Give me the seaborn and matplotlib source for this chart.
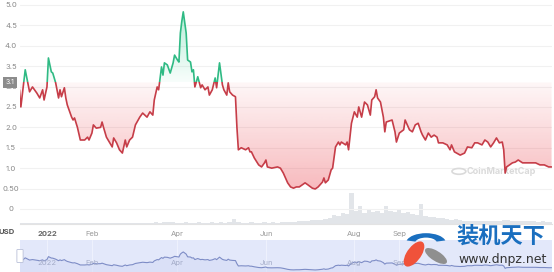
import numpy as np
import pandas as pd
import matplotlib
matplotlib.use("Agg")
import matplotlib.pyplot as plt
import matplotlib.dates as mdates
from matplotlib.patches import Rectangle, FancyBboxPatch, Ellipse, Wedge, Circle
from matplotlib.path import Path
import matplotlib.transforms as mtransforms
import seaborn as sns

# ---------------- data ----------------
day_offsets = [-19, -18, -15, -12, -10, -7, -5, -3, -2, 0, 1, 3, 4, 6, 8, 9, 10, 12, 13, 14,
               17, 18, 19, 21, 23, 26, 28, 29, 31, 32, 34, 37, 38, 39, 41, 43, 45, 46, 48, 50,
               52, 54, 55, 57, 59, 61, 64, 66, 69, 71, 73, 74, 76, 77, 79, 80, 81, 83, 85, 87,
               88, 90, 91, 92, 93, 94, 96, 97, 99, 100, 101, 102, 103, 104, 106, 107, 109, 111, 112, 114,
               116, 117, 119, 121, 122, 124, 125, 126, 128, 130, 131, 132, 134, 137, 139, 140, 141, 143, 146, 148,
               150, 151, 152, 155, 159, 161, 163, 166, 168, 170, 172, 174, 178, 180, 183, 185, 187, 190, 191, 192,
               194, 196, 197, 199, 201, 202, 203, 206, 207, 208, 210, 212, 214, 215, 217, 219, 221, 223, 224, 226,
               227, 228, 230, 232, 233, 234, 238, 240, 241, 243, 246, 247, 248, 250, 252, 254, 256, 258, 259, 261,
               263, 265, 267, 269, 270, 273, 276, 278, 279, 281, 285, 288, 290, 293, 295, 297, 300, 302, 304, 306,
               308, 310, 312, 314, 315, 316, 317, 319, 321, 323, 325, 328, 330, 333, 337, 340, 343, 346, 348]
prices = [2.92, 2.50, 3.41, 2.87, 2.99, 2.84, 2.72, 2.92, 2.67, 2.99, 3.70, 3.36, 3.33, 3.09, 2.72, 2.92, 2.75, 2.97, 2.72, 2.55,
          2.25, 2.18, 2.23, 2.00, 1.69, 1.69, 1.76, 1.69, 1.86, 2.06, 1.98, 2.00, 2.13, 2.00, 1.76, 1.64, 1.52, 1.74, 1.62, 1.45,
          1.37, 1.69, 1.52, 1.69, 1.76, 2.06, 2.25, 2.35, 2.25, 2.38, 2.30, 2.67, 2.99, 2.92, 3.48, 3.28, 3.58, 3.53, 3.33, 3.58,
          3.77, 3.65, 3.60, 4.31, 4.60, 4.83, 4.31, 3.65, 3.60, 3.36, 3.41, 2.99, 3.11, 3.24, 2.97, 3.04, 2.92, 2.99, 2.79, 2.92,
          3.21, 2.97, 3.58, 3.04, 2.92, 2.79, 3.09, 2.87, 2.79, 2.75, 2.00, 1.45, 1.50, 1.45, 1.50, 1.40, 1.40, 1.25, 1.08, 1.03,
          1.13, 1.20, 1.03, 1.00, 1.03, 1.00, 0.88, 0.64, 0.54, 0.51, 0.54, 0.54, 0.64, 0.59, 0.51, 0.49, 0.54, 0.66, 0.76, 0.64,
          0.71, 0.96, 1.00, 1.52, 1.64, 1.57, 1.64, 1.57, 1.64, 1.45, 2.10, 2.38, 2.25, 2.50, 2.25, 2.62, 2.55, 2.30, 2.67, 2.75,
          2.92, 2.72, 2.62, 2.25, 1.89, 2.13, 2.18, 1.89, 1.64, 1.86, 1.94, 2.18, 2.10, 1.94, 1.89, 2.06, 2.10, 1.89, 1.81, 1.69,
          1.86, 1.76, 1.81, 1.76, 1.62, 1.62, 1.57, 1.45, 1.57, 1.40, 1.32, 1.37, 1.52, 1.50, 1.62, 1.62, 1.57, 1.69, 1.64, 1.52,
          1.62, 1.74, 1.62, 1.64, 1.45, 0.88, 1.03, 1.08, 1.13, 1.15, 1.20, 1.13, 1.13, 1.13, 1.13, 1.08, 1.08, 1.03, 1.03]

volume_start, volume_step = -18, 3
volumes = [1, 1, 2, 1, 1, 2, 1, 1, 1, 2, 1, 1, 1, 1, 2, 1, 1, 2, 1, 1,
           2, 1, 1, 1, 2, 1, 1, 2, 1, 2, 2, 3, 2, 3, 4, 3, 2, 2, 3, 2,
           2, 3, 2, 2, 3, 2, 3,
           2, 3, 10, 3, 2, 2, 3, 2, 2, 3,
           2, 3, 2, 3, 4, 3, 4, 5, 5, 6,
           7, 8, 7, 9, 11, 17, 15, 21, 19, 60,
           25, 35, 21, 29, 23, 25, 21, 35, 25, 23,
           27, 21, 23, 19, 17, 39, 15, 13, 14, 11,
           11, 9, 8, 9, 7, 6, 6, 5, 6, 5,
           5, 6, 5, 6, 8, 7, 6, 5, 5, 6,
           5, 5, 4, 5, 4, 4]

baseline = 3.1
ytick_values = [0, 0.5, 1.0, 1.5, 2.0, 2.5, 3.0, 3.5, 4.0, 4.5, 5.0]
ytick_labels = ["0", "0.50", "1.0", "1.5", "2.0", "2.5", "3.0", "3.5", "4.0", "4.5", "5.0"]
month_ticks = ["2022-01-01", "2022-02-01", "2022-04-01", "2022-06-01", "2022-08-01", "2022-09-01"]
month_labels = ["2022", "Feb", "Apr", "Jun", "Aug", "Sep"]

# ---------------- figure ----------------
sns.set_theme(style="white")
plt.rcParams["font.family"] = ["Inter", "Noto Sans CJK SC", "DejaVu Sans"]

W, H = 554, 272
fig = plt.figure(figsize=(W / 100, H / 100), dpi=100)
fig.patch.set_facecolor("white")

def rect(l, t, r, b):
    return [l / W, 1 - b / H, (r - l) / W, (b - t) / H]

start = pd.Timestamp("2022-01-01")
df = pd.DataFrame({"date": start + pd.to_timedelta(day_offsets, unit="D"), "price": prices})
vdays = volume_start + volume_step * np.arange(len(volumes))
vdf = pd.DataFrame({"date": start + pd.to_timedelta(vdays, unit="D"), "volume": volumes})

x0 = mdates.date2num(start - pd.Timedelta(days=18.6))
x1 = mdates.date2num(start + pd.Timedelta(days=348.3))

# volume axes (behind)
axv = fig.add_axes(rect(20, 0, 552, 224))
axv.bar(mdates.date2num(vdf["date"]), vdf["volume"], width=3.0, color="#e2e5e9", linewidth=0)
axv.set_xlim(x0, x1)
axv.set_ylim(0, 433)
axv.axis("off")

# main price axes
ax = fig.add_axes(rect(20, 0, 552, 224))
ax.set_facecolor("none")
xs = mdates.date2num(df["date"])
p = np.array(prices)

# gradient fills
red_poly = ax.fill_between(xs, p, baseline, where=p <= baseline, interpolate=True,
                           facecolor="none", edgecolor="none")
green_poly = ax.fill_between(xs, p, baseline, where=p >= baseline, interpolate=True,
                             facecolor="none", edgecolor="none")

n = 256
red_img = np.zeros((n, 1, 4))
red_img[..., 0], red_img[..., 1], red_img[..., 2] = 234 / 255, 57 / 255, 67 / 255
red_img[:, 0, 3] = np.linspace(0.36, 0.04, n)
im_r = ax.imshow(red_img, extent=[x0, x1, 0.4, baseline], origin="lower", aspect="auto", zorder=1)
im_r.set_clip_path(Path.make_compound_path(*red_poly.get_paths()), ax.transData)

green_img = np.zeros((n, 1, 4))
green_img[..., 0], green_img[..., 1], green_img[..., 2] = 22 / 255, 199 / 255, 132 / 255
green_img[:, 0, 3] = np.linspace(0.03, 0.32, n)
im_g = ax.imshow(green_img, extent=[x0, x1, baseline, 4.9], origin="lower", aspect="auto", zorder=1)
im_g.set_clip_path(Path.make_compound_path(*green_poly.get_paths()), ax.transData)

# watermark CoinMarketCap
ax.text(0.905, 0.235, "CoinMarketCap", transform=ax.transAxes, fontsize=6.5, color="#dadada",
        fontweight="bold", ha="center", va="center", zorder=1.5)
ax.add_patch(Circle((0.825, 0.235), 0.013, transform=ax.transAxes, fill=False, ec="#dadada", lw=1.2, zorder=1.5))

# price line: green above baseline, red below
sns.lineplot(data=df, x="date", y="price", ax=ax, color="#2fba84", linewidth=1.2, zorder=3)
ax.lines[-1].set_clip_path(Rectangle((x0, baseline), x1 - x0, 10, transform=ax.transData))
sns.lineplot(data=df, x="date", y="price", ax=ax, color="#c63d48", linewidth=1.2, zorder=3)
ax.lines[-1].set_clip_path(Rectangle((x0, -5), x1 - x0, baseline + 5, transform=ax.transData))

ax.set_xlim(x0, x1)
ax.set_ylim(-0.368, 5.12)
ax.set_xlabel("")
ax.set_ylabel("")
ax.set_yticks(ytick_values)
ax.set_yticklabels(ytick_labels)
ax.yaxis.grid(True, color="#f1f1f1", linewidth=0.8)
ax.xaxis.grid(False)
ax.tick_params(axis="y", length=0, pad=6.5, labelsize=5.5, labelcolor="#8a8a8a")
for t in ax.get_yticklabels():
    t.set_horizontalalignment("center")
ax.set_xticks(mdates.date2num(pd.to_datetime(month_ticks)))
ax.set_xticklabels(month_labels)
ax.tick_params(axis="x", length=2.5, width=0.6, color="#cfcfcf", pad=2.5, labelsize=5.5, labelcolor="#9a9a9a")
xt = ax.get_xticklabels()
xt[0].set_fontweight("bold")
xt[0].set_color("#666666")
for s in ["left", "right", "top"]:
    ax.spines[s].set_visible(False)
ax.spines["bottom"].set_color("#e3e3e3")
ax.spines["bottom"].set_linewidth(0.8)

# baseline label and USD
tr = mtransforms.blended_transform_factory(fig.transFigure, ax.transData)
ax.text(10 / W, baseline, "3.1", transform=tr, ha="center", va="center", fontsize=5, color="white",
        zorder=10, clip_on=False,
        bbox=dict(boxstyle="square,pad=0.35", fc="#8c8c8c", ec="none"))
fig.text(7 / W, 1 - 232 / H, "USD", ha="center", va="center", fontsize=5.5, fontweight="bold", color="#555555")

# navigator
axn = fig.add_axes(rect(20, 240, 552, 272))
axn.set_facecolor("#e3e8fa")
sns.lineplot(data=df, x="date", y="price", ax=axn, color="#7d8cc6", linewidth=0.8)
axn.fill_between(xs, p, 0, color="#d5dcf5", alpha=0.6, linewidth=0)
axn.set_xlim(x0, x1)
axn.set_ylim(0, 7.7)
axn.set_xticks(mdates.date2num(pd.to_datetime(month_ticks)))
axn.xaxis.grid(True, color="#eef1fd", linewidth=0.8)
axn.yaxis.grid(False)
axn.set_yticks([])
axn.set_xticklabels([])
axn.tick_params(length=0)
axn.set_xlabel("")
axn.set_ylabel("")
for s in axn.spines.values():
    s.set_visible(False)
ntr = mtransforms.blended_transform_factory(axn.transData, axn.transAxes)
for d, lab in zip(month_ticks, month_labels):
    axn.text(mdates.date2num(pd.Timestamp(d)), 0.28, lab, transform=ntr, ha="center", va="center",
             fontsize=5.5, color="#a4acc8")
fig.patches.append(FancyBboxPatch((18 / W, 1 - 262 / H), 4 / W, 12 / H, boxstyle="round,pad=0.002",
                                  transform=fig.transFigure, fc="white", ec="#b9c0d8", lw=0.6))

# dnpz watermark
fig.patches.append(Wedge((426 / W, 1 - 243 / H), 20 / W, 15, 165, width=9 / W, transform=fig.transFigure,
                         fc="#1a6fbf", ec="none"))
fig.patches.append(Ellipse((414 / W, 1 - 254 / H), 16 / W, 26 / H, angle=-15, transform=fig.transFigure,
                           fc="#f0523a", ec="none"))
fig.patches.append(Ellipse((436 / W, 1 - 256 / H), 14 / W, 18 / H, angle=30, transform=fig.transFigure,
                           fc="#8f8f8f", ec="none"))
fig.text(501 / W, 1 - 236 / H, "装机天下", ha="center", va="center", fontsize=16, fontweight="bold",
         color="#1a6fbf", family=["Noto Sans CJK SC", "DejaVu Sans"])
fig.text(503 / W, 1 - 259 / H, "www.dnpz.net", ha="center", va="center", fontsize=9,
         color="#333333", family=["DejaVu Sans"])

fig.savefig("out.png", dpi=100, facecolor="white")
